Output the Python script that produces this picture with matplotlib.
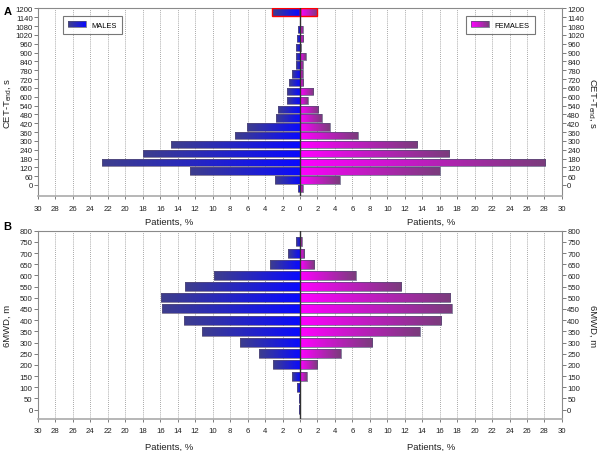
import numpy as np
import matplotlib
matplotlib.use("Agg")
import matplotlib.pyplot as plt
from matplotlib.colors import LinearSegmentedColormap
from matplotlib.patches import Patch, Rectangle
from matplotlib.legend_handler import HandlerBase

plt.rcParams['font.family'] = ['Liberation Sans', 'DejaVu Sans']

# panel A: CET-Tend bins (s), % of patients
cet_levels = [1200, 1140, 1080, 1020, 960, 900, 840, 780, 720, 660, 600,
              540, 480, 420, 360, 300, 240, 180, 120, 60, 0]
cet_males = [3.2, 0, 0.2, 0.3, 0.5, 0.5, 0.5, 0.9, 1.2, 1.45, 1.45,
             2.5, 2.8, 6.1, 7.4, 14.8, 18.0, 22.7, 12.6, 2.9, 0.2]
cet_females = [2.0, 0, 0.3, 0.35, 0.1, 0.65, 0.3, 0.3, 0.4, 1.5, 0.9,
               2.1, 2.5, 3.4, 6.6, 13.4, 17.1, 28.1, 16.0, 4.55, 0.3]

# panel B: 6MWD bins (m), % of patients
mwd_levels = [750, 700, 650, 600, 550, 500, 450, 400, 350, 300, 250,
              200, 150, 100, 50, 0]
mwd_males = [0.46, 1.4, 3.4, 9.9, 13.2, 15.95, 15.8, 13.3, 11.2, 6.9, 4.7,
             3.1, 0.9, 0.3, 0.08, 0.08]
mwd_females = [0.19, 0.5, 1.64, 6.4, 11.6, 17.2, 17.4, 16.2, 13.7, 8.3, 4.66,
               2.0, 0.8, 0.05, 0, 0]

x_ticks = list(range(-30, 31, 2))

male_cmap = LinearSegmentedColormap.from_list('m', ['#3e3e8c', '#0a0aff'])
female_cmap = LinearSegmentedColormap.from_list('f', ['#ff00ff', '#7a3c7c'])
grad = np.linspace(0, 1, 256).reshape(1, -1)


class GradientHandler(HandlerBase):
    def __init__(self, cmap):
        super().__init__()
        self.cmap = cmap

    def create_artists(self, legend, orig_handle, xdescent, ydescent,
                       width, height, fontsize, trans):
        n = 30
        arts = []
        for i in range(n):
            arts.append(Rectangle((-xdescent + width * i / n, -ydescent),
                                  width / n * 1.1, height,
                                  facecolor=self.cmap(i / (n - 1)),
                                  edgecolor='none', transform=trans))
        arts.append(Rectangle((-xdescent, -ydescent), width, height,
                              facecolor='none', edgecolor='#555570',
                              lw=0.5, transform=trans))
        return arts


def gradient_bars(ax, bars, cmap):
    for p in bars:
        x0, y0 = p.get_x(), p.get_y()
        w, h = p.get_width(), p.get_height()
        if w == 0:
            continue
        im = ax.imshow(grad, cmap=cmap, aspect='auto', zorder=2.5,
                       extent=[min(x0, x0 + w), max(x0, x0 + w), y0, y0 + h],
                       interpolation='bilinear')
        im.set_clip_path(p)
        p.set_facecolor('none')


def style_axes(ax, ylim, yticks, ylabel):
    ax.set_xlim(-30, 30)
    ax.set_ylim(*ylim)
    ax.set_xticks(x_ticks)
    ax.set_xticklabels([str(abs(v)) for v in x_ticks])
    ax.set_yticks(yticks)
    for v in x_ticks:
        if v != 0 and abs(v) != 30:
            ax.axvline(v, color='#8a8a8a', lw=0.6, ls=(0, (1, 1.5)), zorder=1)
    ax.axvline(0, color='#303030', lw=1.0, zorder=4)
    ax.tick_params(axis='y', labelsize=5.6, length=3, width=0.6,
                   color='#666666', labelcolor='#222222', pad=0.8,
                   right=True, labelright=True)
    ax.tick_params(axis='x', labelsize=5.6, length=2, width=0.6,
                   color='#666666', labelcolor='#222222', pad=4)
    for s in ax.spines.values():
        s.set_color('#8a8a8a')
        s.set_linewidth(0.8)
    ax.spines['bottom'].set_color('#aaaaaa')
    ax.spines['bottom'].set_linewidth(1.2)
    ax.text(-0.058, 0.5, ylabel, transform=ax.transAxes, rotation=90,
            ha='center', va='center', fontsize=6.8, color='#222222')
    ax.text(1.058, 0.5, ylabel, transform=ax.transAxes, rotation=270,
            ha='center', va='center', fontsize=6.8, color='#222222')


fig = plt.figure(figsize=(6, 4.52), dpi=100)
axA = fig.add_axes([0.0633, 0.5635, 0.8733, 0.4155])
axB = fig.add_axes([0.0633, 0.0708, 0.8733, 0.4166])

# panel A: bar top sits on the bin value
mA = axA.barh(np.array(cet_levels) - 25, -np.array(cet_males), height=50,
              edgecolor='#5a5078', lw=0.5, zorder=3)
fA = axA.barh(np.array(cet_levels) - 25, cet_females, height=50,
              edgecolor='#5a5078', lw=0.5, zorder=3)
mA[0].set_edgecolor('red')
mA[0].set_linewidth(1.0)
fA[0].set_edgecolor('red')
fA[0].set_linewidth(1.0)
gradient_bars(axA, mA, male_cmap)
gradient_bars(axA, fA, female_cmap)
style_axes(axA, (-77, 1200), cet_levels, 'CET-T$_{\\mathregular{end}}$, s')

# panel B: bars centred on the bin value
mB = axB.barh(mwd_levels, -np.array(mwd_males), height=40,
              edgecolor='#5a5078', lw=0.5, zorder=3)
fB = axB.barh(mwd_levels, mwd_females, height=40,
              edgecolor='#5a5078', lw=0.5, zorder=3)
gradient_bars(axB, mB, male_cmap)
gradient_bars(axB, fB, female_cmap)
style_axes(axB, (-42, 800), list(range(0, 801, 50)), '6MWD, m')

for ax, yoff in [(axA, -0.134), (axB, -0.143)]:
    ax.text(0.25, yoff, 'Patients, %', transform=ax.transAxes,
            ha='center', va='center', fontsize=6.8, color='#222222')
    ax.text(0.75, yoff, 'Patients, %', transform=ax.transAxes,
            ha='center', va='center', fontsize=6.8, color='#222222')

# legends
h_m = Patch(label='MALES')
h_f = Patch(label='FEMALES')
leg_kw = dict(fontsize=5.4, frameon=True, fancybox=False, borderaxespad=0,
              handlelength=2.4, handleheight=0.8, borderpad=0.7,
              handletextpad=0.7)
leg1 = axA.legend(handles=[h_m], loc='upper left', bbox_to_anchor=(0.048, 0.96),
                  handler_map={h_m: GradientHandler(male_cmap)}, **leg_kw)
leg1.get_frame().set_edgecolor('#555555')
leg1.get_frame().set_linewidth(0.8)
axA.add_artist(leg1)
leg2 = axA.legend(handles=[h_f], loc='upper right', bbox_to_anchor=(0.948, 0.96),
                  handler_map={h_f: GradientHandler(female_cmap)}, **leg_kw)
leg2.get_frame().set_edgecolor('#555555')
leg2.get_frame().set_linewidth(0.8)

fig.text(0.006, 0.985, 'A', fontsize=8, fontweight='bold', va='top')
fig.text(0.006, 0.508, 'B', fontsize=8, fontweight='bold', va='top')

fig.savefig('out.png', dpi=100)
